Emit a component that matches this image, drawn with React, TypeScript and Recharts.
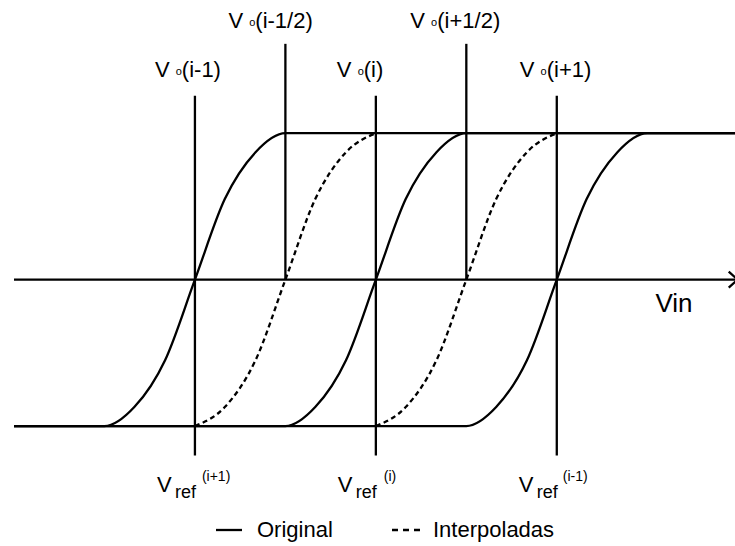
import { LineChart, Line, XAxis, YAxis, ReferenceLine, ReferenceDot, Legend } from 'recharts'

const FONT = '"Liberation Sans", Arial, sans-serif'

// transfer curves (x in half-steps of Vref, y normalised output)
const origAX = [-1, 0, 0.33, 0.67, 1, 1.33, 1.67, 2, 7]
const origBX = [-1, 2, 2.33, 2.67, 3, 3.33, 3.67, 4, 7]
const origCX = [-1, 4, 4.33, 4.67, 5, 5.33, 5.67, 6, 7]
const origY = [-1, -1, -0.87, -0.55, 0, 0.55, 0.87, 1, 1]

const interpAX = [1, 1.33, 1.67, 2, 2.33, 2.67, 3]
const interpBX = [3, 3.33, 3.67, 4, 4.33, 4.67, 5]
const interpY = [-1, -0.87, -0.55, 0, 0.55, 0.87, 1]

// reference marks
const refX = [1, 3, 5]
const refLabels = ['(i+1)', '(i)', '(i-1)']
const outLabels = ['(i-1)', '(i)', '(i+1)']
const halfX = [2, 4]
const halfLabels = ['(i-1/2)', '(i+1/2)']

const legendItems = [
  { name: 'Original', dashed: false },
  { name: 'Interpoladas', dashed: true },
]

const zip = (xs: number[], ys: number[]) => xs.map((x, i) => ({ x, y: ys[i] }))

const topLabel = (text: string, dx: number) => (p: any) => (
  <text x={p.cx + dx} y={p.cy} fontSize={22} fontFamily={FONT} fill="#000" xmlSpace="preserve">
    <tspan>V </tspan>
    <tspan fontSize={11} dy={-2}>o</tspan>
    <tspan dy={2}>{text}</tspan>
  </text>
)

const bottomLabel = (text: string, supDx: number) => (p: any) => {
  const x0 = p.cx - 38
  return (
    <text x={x0} y={p.cy} fontSize={22} fontFamily={FONT} fill="#000">
      <tspan>V</tspan>
      <tspan x={x0 + 18} dy={6} fontSize={18}>ref</tspan>
      <tspan x={x0 + supDx} dy={-17} fontSize={14}>{text}</tspan>
    </text>
  )
}

const arrow = (p: any) => (
  <polyline points={`${p.cx - 9},${p.cy - 8} ${p.cx},${p.cy} ${p.cx - 9},${p.cy + 8}`}
    fill="none" stroke="#000" strokeWidth={2.3} />
)

const vinLabel = (p: any) => (
  <text x={p.cx} y={p.cy} fontSize={26} fontFamily={FONT} fill="#000">Vin</text>
)

const renderLegend = () => (
  <div style={{ position: 'relative', height: 32, width: 735, fontFamily: FONT, fontSize: 22, color: '#000' }}>
    {legendItems.map((it, i) => (
      <div key={it.name} style={{ position: 'absolute', left: i === 0 ? 216 : 392, top: 0, height: 32,
        display: 'flex', alignItems: 'center' }}>
        <svg width={i === 0 ? 26 : 28} height={4} style={{ marginRight: i === 0 ? 15 : 13 }}>
          <line x1={0} y1={2} x2={i === 0 ? 26 : 28} y2={2} stroke="#000" strokeWidth={2.3}
            strokeDasharray={it.dashed ? '6 5' : undefined} />
        </svg>
        <span>{it.name}</span>
      </div>
    ))}
  </div>
)

export default function App() {
  const sw = 2.3
  return (
    <div style={{ position: 'absolute', left: 0, top: 0, background: '#fff' }}>
      <LineChart width={735} height={546} margin={{ top: 16, right: 0, bottom: 0, left: 14 }}>
        <XAxis type="number" dataKey="x" domain={[-1, 6.97]} allowDataOverflow hide />
        <YAxis type="number" dataKey="y" domain={[-1.6, 1.8]} allowDataOverflow hide />
        <Legend verticalAlign="bottom" content={renderLegend} wrapperStyle={{ left: 0, width: 735 }} />

        <ReferenceLine segment={[{ x: -1, y: 0 }, { x: 7, y: 0 }]} stroke="#000" strokeWidth={sw} ifOverflow="visible" />
        {refX.map((x) => (
          <ReferenceLine key={'r' + x} segment={[{ x, y: -1.2 }, { x, y: 1.256 }]} stroke="#000" strokeWidth={sw} />
        ))}
        {halfX.map((x) => (
          <ReferenceLine key={'h' + x} segment={[{ x, y: 0 }, { x, y: 1.61 }]} stroke="#000" strokeWidth={sw} />
        ))}

        <Line data={zip(origAX, origY)} dataKey="y" type="monotone" stroke="#000" strokeWidth={sw}
          dot={false} activeDot={false} isAnimationActive={false} name="Original" />
        <Line data={zip(origBX, origY)} dataKey="y" type="monotone" stroke="#000" strokeWidth={sw}
          dot={false} activeDot={false} isAnimationActive={false} name="Original" />
        <Line data={zip(origCX, origY)} dataKey="y" type="monotone" stroke="#000" strokeWidth={sw}
          dot={false} activeDot={false} isAnimationActive={false} name="Original" />
        <Line data={zip(interpAX, interpY)} dataKey="y" type="monotone" stroke="#000" strokeWidth={sw}
          strokeDasharray="5 3.5" dot={false} activeDot={false} isAnimationActive={false} name="Interpoladas" />
        <Line data={zip(interpBX, interpY)} dataKey="y" type="monotone" stroke="#000" strokeWidth={sw}
          strokeDasharray="5 3.5" dot={false} activeDot={false} isAnimationActive={false} name="Interpoladas" />

        {outLabels.map((t, i) => (
          <ReferenceDot key={'o' + i} x={refX[i]} y={1.385} r={0} ifOverflow="visible"
            shape={topLabel(t, [-40, -39, -37][i])} />
        ))}
        {halfLabels.map((t, i) => (
          <ReferenceDot key={'hl' + i} x={halfX[i]} y={1.72} r={0} ifOverflow="visible"
            shape={topLabel(t, [-57, -56][i])} />
        ))}
        {refLabels.map((t, i) => (
          <ReferenceDot key={'rl' + i} x={refX[i]} y={-1.447} r={0} ifOverflow="visible"
            shape={bottomLabel(t, [45, 46, 44][i])} />
        ))}
        <ReferenceDot x={7} y={0} r={0} ifOverflow="visible" shape={arrow} />
        <ReferenceDot x={6.09} y={-0.218} r={0} ifOverflow="visible" shape={vinLabel} />
      </LineChart>
    </div>
  )
}
